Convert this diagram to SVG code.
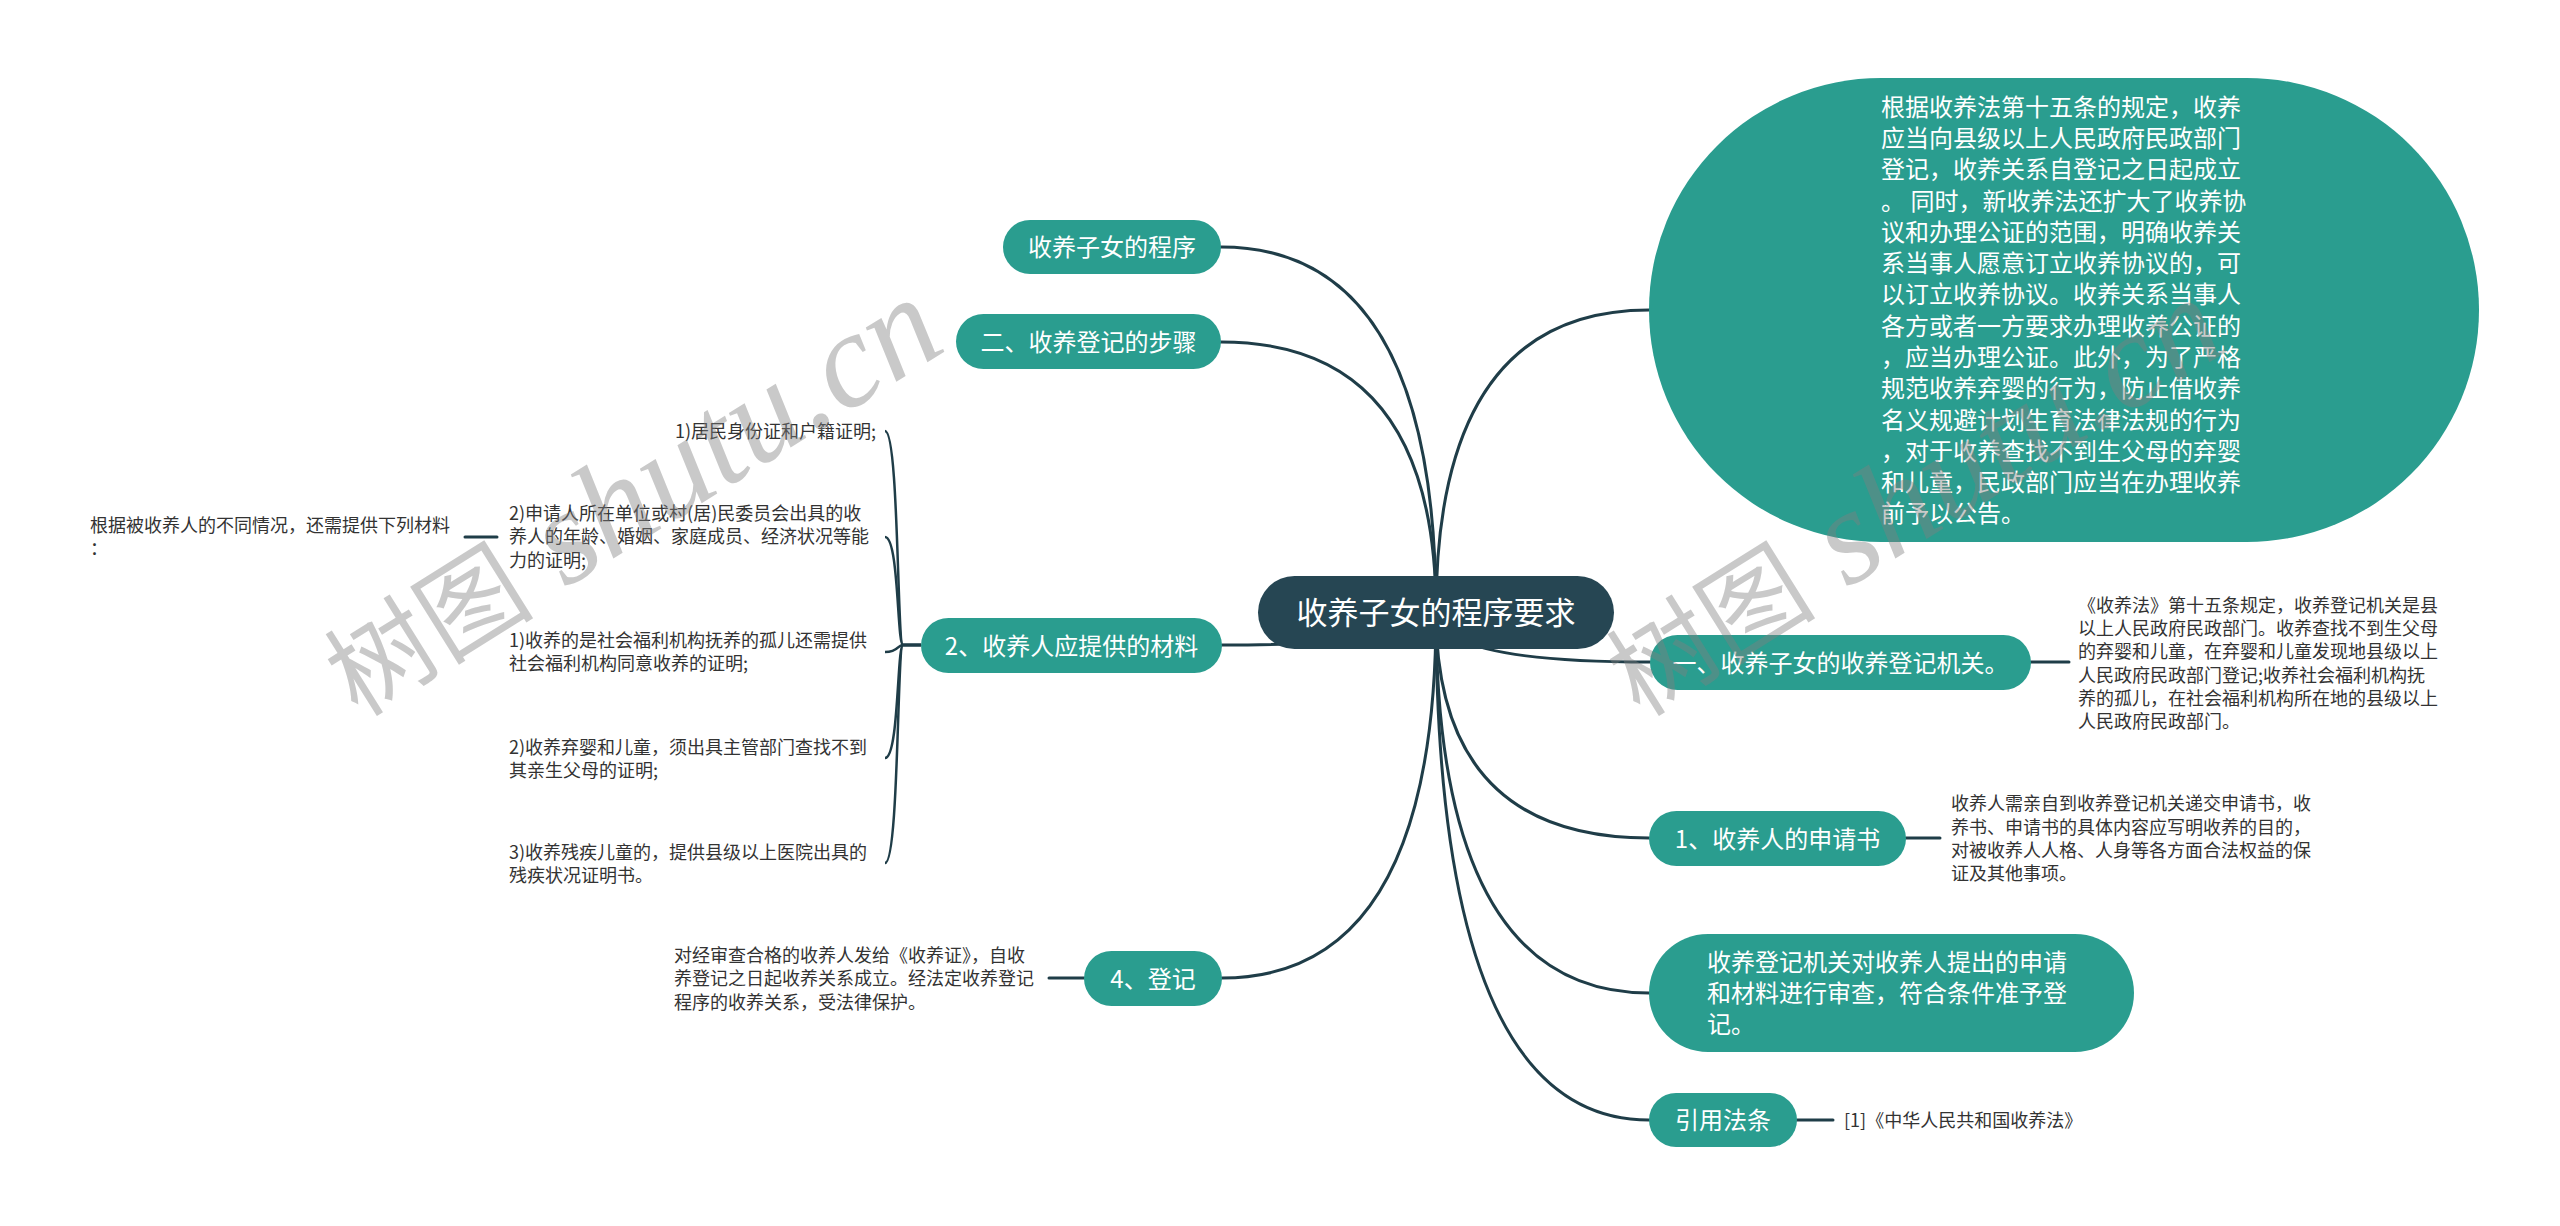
<svg xmlns="http://www.w3.org/2000/svg" width="2560" height="1226" viewBox="0 0 2560 1226">
<style>
text{font-family:"Noto Sans CJK SC","Noto Sans",sans-serif}
.node{fill:#2a9d8f}
.root{fill:#264653}
.nt{fill:#ffffff;font-size:24px}
.rt{fill:#ffffff;font-size:31px}
.leaf{fill:#333333;font-size:18px}
.conn{fill:none;stroke:#1f3d48;stroke-width:3;stroke-linecap:round}
.br{fill:none;stroke:#1f3d48;stroke-width:2.5}
.wm{fill:#808080;opacity:0.42}
.wml{font-family:"Liberation Serif",serif;font-style:italic}
</style>
<rect width="2560" height="1226" fill="#ffffff"/>
<g id="connectors">
<path class="conn" d="M1436,612 Q1436,247 1221,247"/>
<path class="conn" d="M1436,612 Q1436,342 1221,342"/>
<path class="conn" d="M1436,612 Q1436,645 1222,645"/>
<path class="conn" d="M1436,612 Q1436,978 1222,978"/>
<path class="conn" d="M1436,612 Q1436,310 1649,310"/>
<path class="conn" d="M1436,612 Q1436,662 1650,662"/>
<path class="conn" d="M1436,612 Q1436,838 1649,838"/>
<path class="conn" d="M1436,612 Q1436,993 1649,993"/>
<path class="conn" d="M1436,612 Q1436,1120 1649,1120"/>
<path class="conn" d="M2031,662 H2069"/>
<path class="conn" d="M1906,838 H1940"/>
<path class="conn" d="M1797,1120 H1833"/>
<path class="conn" d="M1084,978 H1049"/>
<path class="conn" d="M497,537 H465"/>
<path class="br" d="M921,645 L903,645 C897,645 899,431 885,431"/>
<path class="br" d="M921,645 L903,645 C897,645 899,537 885,537"/>
<path class="br" d="M921,645 L903,645 C897,645 899,652 885,652"/>
<path class="br" d="M921,645 L903,645 C897,645 899,758 885,758"/>
<path class="br" d="M921,645 L903,645 C897,645 899,863 885,863"/>
</g>
<g id="root">
<rect class="root" x="1258" y="576" width="356" height="73" rx="36.5"/>
<text class="rt" x="1436" y="624" text-anchor="middle">收养子女的程序要求</text>
</g>
<g id="n-procedure">
<rect class="node" x="1003" y="220" width="218" height="54" rx="27"/>
<text class="nt" x="1112" y="256" text-anchor="middle">收养子女的程序</text>
</g>
<g id="n-steps">
<rect class="node" x="956" y="314" width="265" height="55" rx="27.5"/>
<text class="nt" x="1088.5" y="350.5" text-anchor="middle">二、收养登记的步骤</text>
</g>
<g id="n-materials">
<rect class="node" x="921" y="618" width="301" height="55" rx="27.5"/>
<text class="nt" x="1071.5" y="654.5" text-anchor="middle">2、收养人应提供的材料</text>
</g>
<g id="n-register">
<rect class="node" x="1084" y="951" width="138" height="55" rx="27.5"/>
<text class="nt" x="1153" y="987.5" text-anchor="middle">4、登记</text>
</g>
<g id="n-law15">
<rect class="node" x="1649" y="78" width="830" height="464" rx="232"/>
<text class="nt" x="1881" y="115.8"><tspan x="1881">根据收养法第十五条的规定，收养</tspan><tspan x="1881" dy="31.27">应当向县级以上人民政府民政部门</tspan><tspan x="1881" dy="31.27">登记，收养关系自登记之日起成立</tspan><tspan x="1881" dy="31.27">。 同时，新收养法还扩大了收养协</tspan><tspan x="1881" dy="31.27">议和办理公证的范围，明确收养关</tspan><tspan x="1881" dy="31.27">系当事人愿意订立收养协议的，可</tspan><tspan x="1881" dy="31.27">以订立收养协议。收养关系当事人</tspan><tspan x="1881" dy="31.27">各方或者一方要求办理收养公证的</tspan><tspan x="1881" dy="31.27">，应当办理公证。此外，为了严格</tspan><tspan x="1881" dy="31.27">规范收养弃婴的行为，防止借收养</tspan><tspan x="1881" dy="31.27">名义规避计划生育法律法规的行为</tspan><tspan x="1881" dy="31.27">，对于收养查找不到生父母的弃婴</tspan><tspan x="1881" dy="31.27">和儿童，民政部门应当在办理收养</tspan><tspan x="1881" dy="31.27">前予以公告。</tspan></text>
</g>
<g id="n-authority">
<rect class="node" x="1650" y="635" width="381" height="55" rx="27.5"/>
<text class="nt" x="1840.5" y="671.5" text-anchor="middle">一、收养子女的收养登记机关。</text>
</g>
<g id="n-application">
<rect class="node" x="1649" y="811" width="257" height="55" rx="27.5"/>
<text class="nt" x="1777.5" y="847.5" text-anchor="middle">1、收养人的申请书</text>
</g>
<g id="n-review">
<rect class="node" x="1649" y="934" width="485" height="118" rx="59"/>
<text class="nt" x="1707" y="970.8"><tspan x="1707">收养登记机关对收养人提出的申请</tspan><tspan x="1707" dy="31.3">和材料进行审查，符合条件准予登</tspan><tspan x="1707" dy="31.3">记。</tspan></text>
</g>
<g id="n-cite">
<rect class="node" x="1649" y="1093" width="148" height="54" rx="27"/>
<text class="nt" x="1723" y="1129" text-anchor="middle">引用法条</text>
</g>
<g id="l-authority">
<text class="leaf" x="2078" y="611.8"><tspan x="2078">《收养法》第十五条规定，收养登记机关是县</tspan><tspan x="2078" dy="23.3">以上人民政府民政部门。收养查找不到生父母</tspan><tspan x="2078" dy="23.3">的弃婴和儿童，在弃婴和儿童发现地县级以上</tspan><tspan x="2078" dy="23.3">人民政府民政部门登记;收养社会福利机构抚</tspan><tspan x="2078" dy="23.3">养的孤儿，在社会福利机构所在地的县级以上</tspan><tspan x="2078" dy="23.3">人民政府民政部门。</tspan></text>
</g>
<g id="l-application">
<text class="leaf" x="1951" y="810.3"><tspan x="1951">收养人需亲自到收养登记机关递交申请书，收</tspan><tspan x="1951" dy="23.3">养书、申请书的具体内容应写明收养的目的，</tspan><tspan x="1951" dy="23.3">对被收养人人格、人身等各方面合法权益的保</tspan><tspan x="1951" dy="23.3">证及其他事项。</tspan></text>
</g>
<g id="l-cite">
<text class="leaf" x="1844" y="1126.8">[1]《中华人民共和国收养法》</text>
</g>
<g id="l-register">
<text class="leaf" x="674" y="962"><tspan x="674">对经审查合格的收养人发给《收养证》，自收</tspan><tspan x="674" dy="23.3">养登记之日起收养关系成立。经法定收养登记</tspan><tspan x="674" dy="23.3">程序的收养关系，受法律保护。</tspan></text>
</g>
<g id="l-m1">
<text class="leaf" x="876" y="437.8" text-anchor="end">1)居民身份证和户籍证明;</text>
</g>
<g id="l-m2">
<text class="leaf" x="509" y="520.1"><tspan x="509">2)申请人所在单位或村(居)民委员会出具的收</tspan><tspan x="509" dy="23.3">养人的年龄、婚姻、家庭成员、经济状况等能</tspan><tspan x="509" dy="23.3">力的证明;</tspan></text>
</g>
<g id="l-m2-note">
<text class="leaf" x="90" y="531.8"><tspan x="90">根据被收养人的不同情况，还需提供下列材料</tspan><tspan x="90" dy="23.3">：</tspan></text>
</g>
<g id="l-m3">
<text class="leaf" x="509" y="646.8"><tspan x="509">1)收养的是社会福利机构抚养的孤儿还需提供</tspan><tspan x="509" dy="23.3">社会福利机构同意收养的证明;</tspan></text>
</g>
<g id="l-m4">
<text class="leaf" x="509" y="753.5"><tspan x="509">2)收养弃婴和儿童，须出具主管部门查找不到</tspan><tspan x="509" dy="23.3">其亲生父母的证明;</tspan></text>
</g>
<g id="l-m5">
<text class="leaf" x="509" y="858.5"><tspan x="509">3)收养残疾儿童的，提供县级以上医院出具的</tspan><tspan x="509" dy="23.3">残疾状况证明书。</tspan></text>
</g>
<g id="watermarks">
<text class="wm" transform="translate(358,718) rotate(-32)"><tspan font-size="105">树图</tspan><tspan class="wml" font-size="135"> shutu.cn</tspan></text>
<text class="wm" transform="translate(1640,718) rotate(-32)"><tspan font-size="105">树图</tspan><tspan class="wml" font-size="135"> shutu.cn</tspan></text>
</g>
</svg>
